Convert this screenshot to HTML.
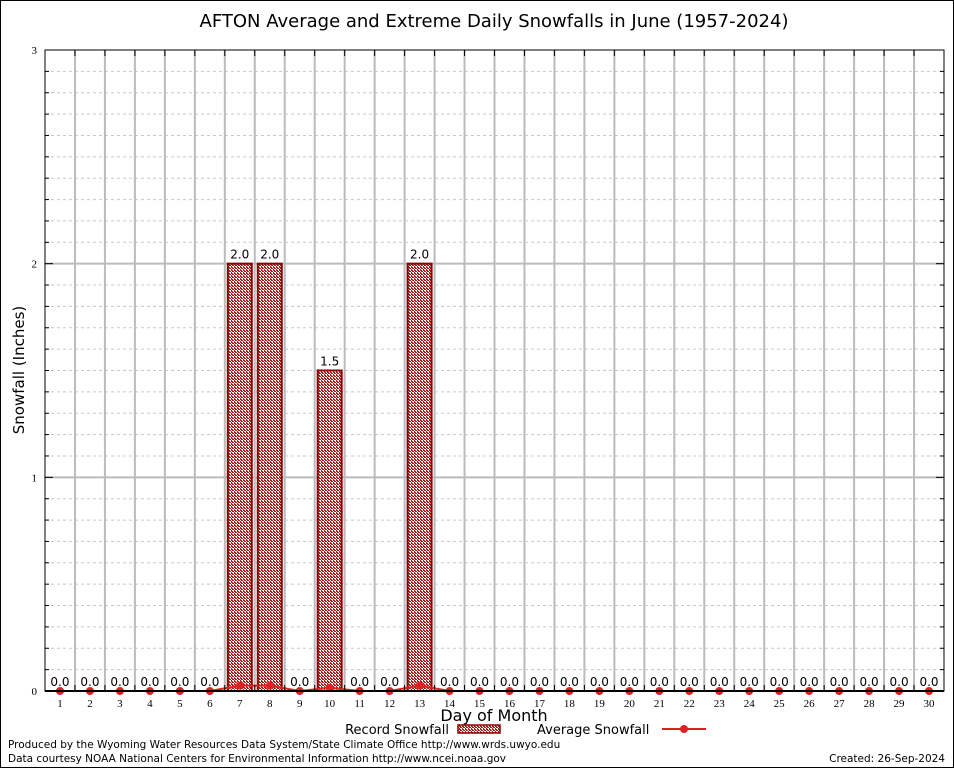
<!DOCTYPE html>
<html><head><meta charset="utf-8"><style>
html,body{margin:0;padding:0;background:#fff}
svg{display:block;font-family:"DejaVu Sans","Liberation Sans",sans-serif}
</style></head><body>
<svg id="chart" width="954" height="768" viewBox="0 0 954 768" xmlns="http://www.w3.org/2000/svg">
<defs>
<pattern id="hatch" width="3" height="3" patternUnits="userSpaceOnUse">
<rect width="3" height="3" fill="#fff"/>
<rect width="2" height="1" fill="#b01818"/><rect x="1" y="1" width="2" height="1" fill="#b01818"/><rect x="0" y="2" width="1" height="1" fill="#b01818"/>
</pattern>
</defs>
<rect x="0.5" y="0.5" width="953" height="767" fill="#fff" stroke="#000"/>
<text x="494" y="27" font-size="18" text-anchor="middle">AFTON Average and Extreme Daily Snowfalls in June (1957-2024)</text>
<g id="grid"></g>
<g id="bars"></g>
<g id="avg"></g>
<g id="axes"></g>
<text transform="translate(24,370) rotate(-90)" font-size="15" text-anchor="middle">Snowfall (Inches)</text>
<text x="494" y="721" font-size="16" text-anchor="middle">Day of Month</text>
<g>
<text x="449" y="734" font-size="13" text-anchor="end">Record Snowfall</text>
<rect x="458" y="725" width="42" height="8" fill="url(#hatch)" stroke="#8b0000" stroke-width="1.5"/>
<text x="537" y="734" font-size="13">Average Snowfall</text>
<line x1="662" y1="729" x2="706" y2="729" stroke="#e02020" stroke-width="2"/>
<circle cx="684" cy="729" r="4" fill="#e02020"/>
</g>
<text x="8" y="748" font-size="10.5">Produced by the Wyoming Water Resources Data System/State Climate Office http://www.wrds.uwyo.edu</text>
<text x="8" y="762" font-size="10.5">Data courtesy NOAA National Centers for Environmental Information http://www.ncei.noaa.gov</text>
<text x="945" y="762" font-size="10.5" text-anchor="end">Created:  26-Sep-2024</text>
</svg>
<script>
const days = [1,2,3,4,5,6,7,8,9,10,11,12,13,14,15,16,17,18,19,20,21,22,23,24,25,26,27,28,29,30];
const recordSnow = [0,0,0,0,0,0,2.0,2.0,0,1.5,0,0,2.0,0,0,0,0,0,0,0,0,0,0,0,0,0,0,0,0,0];
const avgSnow = [0,0,0,0,0,0,0.025,0.025,0,0.015,0,0,0.025,0,0,0,0,0,0,0,0,0,0,0,0,0,0,0,0,0];
const yTicks = [0,1,2,3];

const NS="http://www.w3.org/2000/svg";
const L=45,R=944,T=50,B=691,yMax=3;
const step=(R-L)/days.length;
const xS=d=>L+(d-0.5)*step;
const yS=v=>B-(v/yMax)*(B-T);
function mk(tag,attrs,parent){const e=document.createElementNS(NS,tag);for(const k in attrs)e.setAttribute(k,attrs[k]);parent.appendChild(e);return e;}
const grid=document.getElementById('grid'),bars=document.getElementById('bars'),avg=document.getElementById('avg'),axes=document.getElementById('axes');
for(let i=1;i<yMax*10;i++){if(i%10===0)continue;const y=yS(i/10);
 const g=mk('line',{x1:L,x2:R,y1:y,y2:y,stroke:'#c8c8c8','stroke-dasharray':'3,3'},grid);
 
 
 const t1=mk('line',{x1:L,x2:L+4,y1:y,y2:y,stroke:'#000'},axes);
 
 
 const t2=mk('line',{x1:R-4,x2:R,y1:y,y2:y,stroke:'#000'},axes);
 
 }
for(let i=1;i<days.length;i++){const x=L+i*step;
 const g=mk('line',{x1:x,x2:x,y1:T,y2:B,stroke:'#bbb','stroke-width':2},grid);
 
 
 const t=mk('line',{x1:x,x2:x,y1:T,y2:T+6,stroke:'#000'},axes);
 
 
 const t2=mk('line',{x1:x,x2:x,y1:B-6,y2:B,stroke:'#000'},axes);
 
 }
yTicks.forEach(v=>{const y=yS(v);
 if(v>0&&v<yMax){const g=mk('line',{x1:L,x2:R,y1:y,y2:y,stroke:'#bbb','stroke-width':2},grid);
  
  }
 const t=mk('line',{x1:L,x2:L+8,y1:y,y2:y,stroke:'#000'},axes);
 
 
 const t2=mk('line',{x1:R-8,x2:R,y1:y,y2:y,stroke:'#000'},axes);
 
 
 const lb=mk('text',{x:L-8,y:y+4,'font-size':11,'text-anchor':'end','font-family':'Liberation Serif,serif'},axes);
 lb.textContent=v;
 
 });
const fr=mk('rect',{x:L,y:T,width:R-L,height:B-T,fill:'none',stroke:'#000'},axes);


mk('line',{x1:L,x2:R,y1:B,y2:B,stroke:'#000','stroke-width':2},axes);
days.forEach((d,i)=>{const x=xS(d),v=recordSnow[i];const bw=step*0.8;
 if(v>0){const b=mk('rect',{x:x-bw/2,y:yS(v),width:bw,height:B-yS(v),fill:'url(#hatch)',stroke:'#8b0000','stroke-width':2},bars);
  
  }
 const lb=mk('text',{x:x,y:yS(v)-5,'font-size':12,'text-anchor':'middle'},bars);
 lb.textContent=v.toFixed(1);
 
 
 const xl=mk('text',{x:x,y:B+16,'font-size':11,'text-anchor':'middle','font-family':'Liberation Serif,serif'},axes);
 xl.textContent=d;
 
 });
const pts=days.map((d,i)=>xS(d)+','+yS(avgSnow[i])).join(' ');
const pl=mk('polyline',{points:pts,fill:'none',stroke:'#e02020','stroke-width':2},avg);


days.forEach((d,i)=>{const c=mk('circle',{cx:xS(d),cy:yS(avgSnow[i]),r:4,fill:'#e02020'},avg);
 
 });
</script>
</body></html>
